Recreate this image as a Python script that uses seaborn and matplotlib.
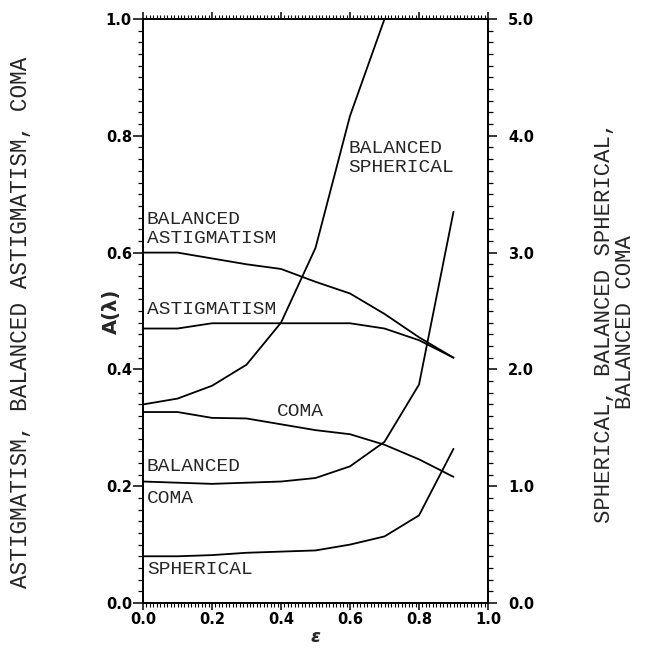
import matplotlib
matplotlib.use("Agg")
import matplotlib.pyplot as plt
from matplotlib.ticker import MultipleLocator, FormatStrFormatter, FixedLocator
import seaborn as sns
import numpy as np
import pandas as pd

# ---- data ----
eps = [0.0, 0.1, 0.2, 0.3, 0.4, 0.5, 0.6, 0.7, 0.8, 0.9]
astigmatism = [0.470, 0.470, 0.479, 0.479, 0.479, 0.479, 0.479, 0.470, 0.450, 0.420]
balanced_astigmatism = [0.600, 0.600, 0.590, 0.580, 0.572, 0.550, 0.530, 0.495, 0.455, 0.420]
coma = [0.327, 0.327, 0.317, 0.316, 0.306, 0.296, 0.289, 0.271, 0.246, 0.216]

eps_bs = [0.0, 0.1, 0.2, 0.3, 0.4, 0.5, 0.6, 0.7]
balanced_spherical = [1.70, 1.75, 1.86, 2.04, 2.40, 3.04, 4.17, 5.00]
balanced_coma = [1.04, 1.03, 1.02, 1.03, 1.04, 1.07, 1.17, 1.38, 1.87, 3.35]
spherical = [0.40, 0.40, 0.41, 0.43, 0.44, 0.45, 0.50, 0.57, 0.75, 1.32]

x_ticks = [0.0, 0.2, 0.4, 0.6, 0.8, 1.0]
left_ticks = [0.0, 0.2, 0.4, 0.6, 0.8, 1.0]
right_ticks = [0.0, 1.0, 2.0, 3.0, 4.0, 5.0]

sns.set_style("ticks")
plt.rcParams['font.family'] = ['DejaVu Sans']

W, H = 651, 652
fig = plt.figure(figsize=(W / 100, H / 100), dpi=100)
L, R, T, B = 143, 488, 19, 603
ax = fig.add_axes([L / W, 1 - B / H, (R - L) / W, (B - T) / H])
ax2 = ax.twinx()

lw = 1.3
for yv in (astigmatism, balanced_astigmatism, coma):
    sns.lineplot(x=eps, y=yv, ax=ax, color="black", linewidth=lw)
sns.lineplot(x=eps_bs, y=balanced_spherical, ax=ax2, color="black", linewidth=lw)
sns.lineplot(x=eps, y=balanced_coma, ax=ax2, color="black", linewidth=lw)
sns.lineplot(x=eps, y=spherical, ax=ax2, color="black", linewidth=lw)

ax.set_xlim(0, 1)
ax.set_ylim(0, 1)
ax2.set_ylim(0, 5)

for a in (ax, ax2):
    for s in a.spines.values():
        s.set_visible(True)
        s.set_linewidth(1.4)
        s.set_color("black")

mono = "Liberation Mono"

ax.set_xlabel("ε", fontsize=13, fontweight="bold", fontstyle="italic")
ax.xaxis.set_label_coords(0.5, -0.043)
ax.set_ylabel("A(λ)", fontsize=14, fontweight="bold")
ax.yaxis.set_label_coords(-0.064, 0.5)

ax2.set_ylabel("SPHERICAL, BALANCED SPHERICAL,\nBALANCED COMA", family=mono,
               fontsize=16, linespacing=1.0, multialignment="center", rotation=90)
ax2.yaxis.set_label_coords((594 - L) / (R - L), (B - 322) / (B - T))
fig.text(21 / W, 1 - 322 / H, "ASTIGMATISM, BALANCED ASTIGMATISM, COMA", family=mono,
         fontsize=16.3, rotation=90, ha="center", va="center")

def px(xp, yp):
    return (xp - L) / (R - L), (B - yp) / (B - T)

ann = 14
for text, xp, yp in [("BALANCED\nSPHERICAL", 348, 140),
                     ("BALANCED\nASTIGMATISM", 147, 211),
                     ("ASTIGMATISM", 147, 301),
                     ("COMA", 277, 403),
                     ("BALANCED", 147, 458),
                     ("COMA", 147, 490),
                     ("SPHERICAL", 147, 561)]:
    xa, ya = px(xp, yp)
    ax.text(xa, ya, text, transform=ax.transAxes, family=mono, fontsize=ann,
            ha="left", va="top", linespacing=1.12)

# ---- ticks (set last) ----
ax.xaxis.set_major_locator(FixedLocator(x_ticks))
ax.yaxis.set_major_locator(FixedLocator(left_ticks))
ax2.yaxis.set_major_locator(FixedLocator(right_ticks))
ax.xaxis.set_minor_locator(MultipleLocator(0.01))
ax.yaxis.set_minor_locator(MultipleLocator(0.02))
ax2.yaxis.set_minor_locator(MultipleLocator(0.1))
ax.xaxis.set_major_formatter(FormatStrFormatter("%.1f"))
ax.yaxis.set_major_formatter(FormatStrFormatter("%.1f"))
ax2.yaxis.set_major_formatter(FormatStrFormatter("%.1f"))

ax.xaxis.set_tick_params(which="both", direction="out", top=True, bottom=True,
                         labeltop=False, labelbottom=True, color="black")
ax.xaxis.set_tick_params(which="major", length=5, width=1.1, pad=1.5)
ax.xaxis.set_tick_params(which="minor", length=2.8, width=0.8)
ax.yaxis.set_tick_params(which="both", direction="out", left=True, right=False, color="black")
ax.yaxis.set_tick_params(which="major", length=7, width=1.1, pad=1)
ax.yaxis.set_tick_params(which="minor", length=3.5, width=0.9)
ax2.yaxis.set_tick_params(which="both", direction="out", right=True, left=False, color="black")
ax2.yaxis.set_tick_params(which="major", length=6.5, width=1.1, pad=8)
ax2.yaxis.set_tick_params(which="minor", length=3.5, width=0.9)
ax2.xaxis.set_visible(False)
for lab in ax.get_xticklabels() + ax.get_yticklabels() + ax2.get_yticklabels():
    lab.set_fontsize(10.5)
    lab.set_fontweight("bold")
    lab.set_color("black")

fig.savefig("out.png", dpi=100)
